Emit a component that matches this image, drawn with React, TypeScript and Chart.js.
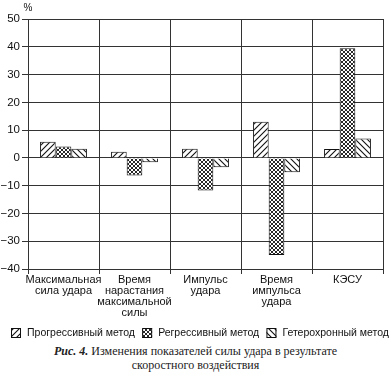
import React, { useEffect, useRef } from "react";
import { Chart, registerables } from "chart.js";

Chart.register(...registerables);

const categories: string[][] = [
  ["Максимальная", "сила удара"],
  ["Время", "нарастания", "максимальной", "силы"],
  ["Импульс", "удара"],
  ["Время", "импульса", "удара"],
  ["КЭСУ"],
];

const seriesNames = ["Прогрессивный метод", "Регрессивный метод", "Гетерохронный метод"];
const progressive = [5.8, 2.2, 3.3, 13, 3.2];
const regressive = [4.1, -6.3, -11.7, -35, 39.5];
const heterochronous = [3.3, -1.6, -3.4, -5.2, 7];

const yMin = -40;
const yMax = 50;
const yStep = 10;

const FAM = "'Liberation Sans', Arial, sans-serif";
const TEXT = "#111";

function makeHatch(kind: "fwd" | "back" | "cross"): CanvasPattern | string {
  const c = document.createElement("canvas");
  const s = kind === "cross" ? 4 : 6;
  c.width = s;
  c.height = s;
  const g = c.getContext("2d");
  if (!g) return "#fff";
  g.fillStyle = "#fff";
  g.fillRect(0, 0, s, s);
  g.strokeStyle = "#111";
  g.lineWidth = kind === "cross" ? 0.9 : 1.1;
  const fwd = () => {
    g.beginPath();
    g.moveTo(0, s);
    g.lineTo(s, 0);
    g.moveTo(-1, 1);
    g.lineTo(1, -1);
    g.moveTo(s - 1, s + 1);
    g.lineTo(s + 1, s - 1);
    g.stroke();
  };
  const back = () => {
    g.beginPath();
    g.moveTo(0, 0);
    g.lineTo(s, s);
    g.moveTo(-1, s - 1);
    g.lineTo(1, s + 1);
    g.moveTo(s - 1, -1);
    g.lineTo(s + 1, 1);
    g.stroke();
  };
  if (kind === "fwd") fwd();
  else if (kind === "back") back();
  else {
    fwd();
    back();
  }
  const p = g.createPattern(c, "repeat");
  return p || "#fff";
}

const percentPlugin = {
  id: "percentLabel",
  afterDraw(chart: any) {
    const { ctx, chartArea } = chart;
    ctx.save();
    ctx.font = "10px " + FAM;
    ctx.fillStyle = TEXT;
    ctx.textAlign = "center";
    ctx.textBaseline = "middle";
    ctx.fillText("%", chartArea.left, chartArea.top - 11);
    ctx.restore();
  },
};

const legendPlugin = {
  id: "rowLegend",
  afterDraw(chart: any) {
    const { ctx } = chart;
    const left = 11;
    const right = 389;
    const box = 10;
    const gap = 6;
    const cy = chart.height - 8;
    ctx.save();
    ctx.font = "10.5px " + FAM;
    const ds = chart.data.datasets;
    const widths = ds.map((d: any) => box + gap + ctx.measureText(d.label).width);
    const total = widths.reduce((a: number, b: number) => a + b, 0);
    const space = (right - left - total) / Math.max(1, ds.length - 1);
    let x = left;
    ds.forEach((d: any, i: number) => {
      ctx.fillStyle = d.backgroundColor;
      ctx.fillRect(x, cy - box / 2, box, box);
      ctx.strokeStyle = "#111";
      ctx.lineWidth = 1;
      ctx.strokeRect(x + 0.5, cy - box / 2 + 0.5, box - 1, box - 1);
      ctx.fillStyle = TEXT;
      ctx.textAlign = "left";
      ctx.textBaseline = "middle";
      ctx.fillText(d.label, x + box + gap, cy);
      x += widths[i] + space;
    });
    ctx.restore();
  },
};

export default function App() {
  const ref = useRef<HTMLCanvasElement | null>(null);

  useEffect(() => {
    if (!ref.current) return;
    const chart = new Chart(ref.current, {
      type: "bar",
      data: {
        labels: categories,
        datasets: [
          {
            label: seriesNames[0],
            data: progressive,
            backgroundColor: makeHatch("fwd"),
            borderColor: "#111",
            borderWidth: 1,
          },
          {
            label: seriesNames[1],
            data: regressive,
            backgroundColor: makeHatch("cross"),
            borderColor: "#111",
            borderWidth: 1,
          },
          {
            label: seriesNames[2],
            data: heterochronous,
            backgroundColor: makeHatch("back"),
            borderColor: "#111",
            borderWidth: 1,
          },
        ] as any,
      },
      options: {
        responsive: false,
        animation: false,
        layout: { padding: { top: 19, right: 8, left: 0, bottom: 23 } },
        datasets: {
          bar: { categoryPercentage: 0.66, barPercentage: 1 },
        } as any,
        plugins: {
          legend: { display: false },
          tooltip: { enabled: false },
          title: { display: false },
        },
        scales: {
          x: {
            afterFit(scale: any) {
              scale.height = 49;
            },
            grid: { color: "#333", lineWidth: 1, tickLength: 5, offset: true },
            border: { color: "#333" },
            ticks: {
              color: TEXT,
              font: { family: FAM, size: 11, lineHeight: 0.98 },
              padding: 1,
              maxRotation: 0,
              autoSkip: false,
            },
          },
          y: {
            min: yMin,
            max: yMax,
            afterFit(scale: any) {
              scale.width = 28;
            },
            grid: { color: "#333", lineWidth: 1, tickLength: 6 },
            border: { color: "#333" },
            ticks: {
              stepSize: yStep,
              color: TEXT,
              padding: 2,
              font: { family: FAM, size: 11.5 },
              callback: (v: any) => (Number(v) < 0 ? "\u2212" + Math.abs(Number(v)) : String(v)),
            },
          },
        },
      },
      plugins: [percentPlugin, legendPlugin],
    });
    return () => chart.destroy();
  }, []);

  return (
    <div
      style={{
        position: "fixed",
        left: 0,
        top: 0,
        width: 391,
        height: 381,
        background: "#fff",
        overflow: "hidden",
      }}
    >
      <canvas ref={ref} width={391} height={341} style={{ display: "block" }} />
      <div
        style={{
          position: "absolute",
          left: 0,
          top: 344,
          width: 391,
          textAlign: "center",
          fontFamily: "'Liberation Serif', 'Times New Roman', serif",
          fontSize: 12,
          lineHeight: "14px",
          color: "#222",
        }}
      >
        <b>
          <i>Рис. 4.</i>
        </b>{" "}
        Изменения показателей силы удара в результате
        <br />
        скоростного воздействия
      </div>
    </div>
  );
}
